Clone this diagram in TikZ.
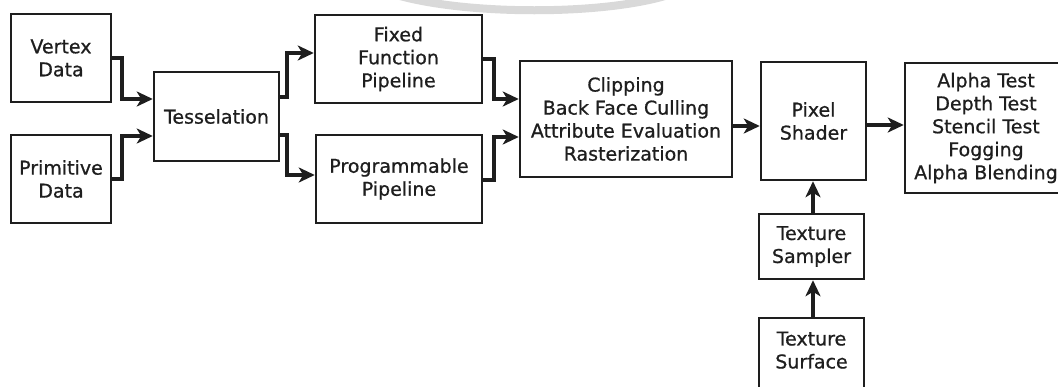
\documentclass[tikz,border=0pt]{standalone}
\usepackage{fontspec}
\setmainfont{DejaVu Sans}
\newfontfamily\stagefont{DejaVu Sans}[FakeBold=0.8]
\usetikzlibrary{arrows.meta,calc}

\definecolor{ink}{HTML}{1E1E1E}
\definecolor{arcgray}{HTML}{D9D9D9}

\tikzset{
  stage/.style={draw=ink, line width=2.5pt, rectangle, align=center,
    inner sep=0pt, text=ink,
    font=\stagefont\fontsize{19}{23}\selectfont},
  conn/.style={draw=ink, line width=4pt,
    -{Stealth[length=16pt,width=15pt,inset=4.5pt]}},
}

\begin{document}
\begin{tikzpicture}[x=1pt,y=-1pt]
  \useasboundingbox (0,0) rectangle (1058,386);

  % faint arc across the top edge
  \draw[draw=arcgray, line width=8pt] (400,-4) .. controls (470,15) and (600,15) .. (665,-4);

  % input stages
  \node[stage, minimum width=100pt, minimum height=88pt] (vertex) at (61,58) {Vertex\\Data};
  \node[stage, minimum width=100pt, minimum height=88pt] (prim) at (61,179) {Primitive\\Data};
  \node[stage, minimum width=125pt, minimum height=89pt] (tess) at (216.5,116.5) {Tesselation};

  % the two pipelines
  \node[stage, minimum width=167pt, minimum height=88pt] (fixed) at (398.5,59) {Fixed\\Function\\Pipeline};
  \node[stage, minimum width=166pt, minimum height=88pt] (prog) at (399,179) {Programmable\\Pipeline};

  % back end
  \node[stage, minimum width=212pt, minimum height=116pt] (clip) at (626,119)
    {Clipping\\Back Face Culling\\Attribute Evaluation\\Rasterization};
  \node[stage, minimum width=105pt, minimum height=118pt] (pixel) at (813.5,121) {Pixel\\Shader};
  \node[stage, minimum width=162pt, minimum height=130pt] (alpha) at (986,128)
    {Alpha Test\\Depth Test\\Stencil Test\\Fogging\\Alpha Blending};

  % texture path
  \node[stage, minimum width=105pt, minimum height=65pt] (sampler) at (811.5,246.5) {Texture\\Sampler};
  \node[stage, minimum width=105pt, minimum height=72pt, text depth=8pt] (surface) at (811.5,354) {Texture\\Surface};

  % connectors
  \draw[conn] (vertex.east) -- ++(10,0) |- ([yshift=17.5pt]tess.west);
  \draw[conn] (prim.east) -- ++(10,0) |- ([yshift=-19.5pt]tess.west);
  \draw[conn] ([yshift=19.5pt]tess.east) -- ++(7,0) |- ([yshift=6pt]fixed.west);
  \draw[conn] ([yshift=-18.5pt]tess.east) -- ++(7,0) |- ([yshift=4pt]prog.west);
  \draw[conn] (fixed.east) -- ++(11,0) |- ([yshift=20pt]clip.west);
  \draw[conn] ([yshift=-1pt]prog.east) -- ++(11,0) |- ([yshift=-18pt]clip.west);
  \draw[conn] ([yshift=-7pt]clip.east) -- ([yshift=-7pt]clip.east -| pixel.west);
  \draw[conn] ([yshift=-4pt]pixel.east) -- ([yshift=-4pt]pixel.east -| alpha.west);
  \draw[conn] ([xshift=1.5pt]sampler.north) -- ([xshift=1.5pt]sampler.north |- pixel.south);
  \draw[conn] ([xshift=1.5pt]surface.north) -- ([xshift=1.5pt]surface.north |- sampler.south);
\end{tikzpicture}
\end{document}
